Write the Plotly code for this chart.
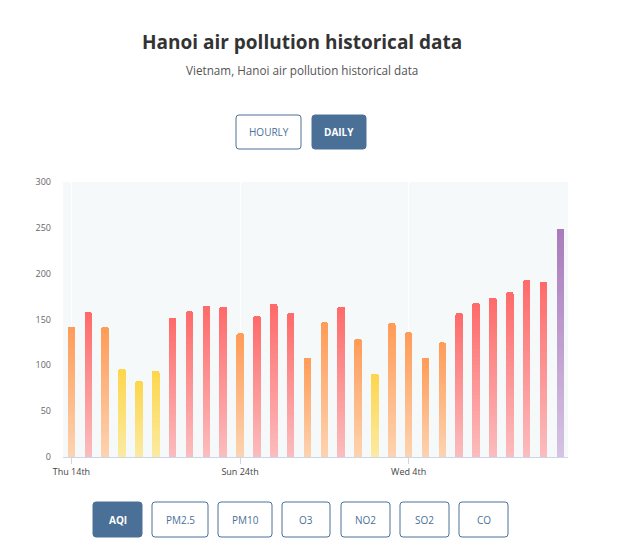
import plotly.graph_objects as go

# ---- data ----
days = ["Thu 14th", "Fri 15th", "Sat 16th", "Sun 17th", "Mon 18th", "Tue 19th",
        "Wed 20th", "Thu 21st", "Fri 22nd", "Sat 23rd", "Sun 24th", "Mon 25th",
        "Tue 26th", "Wed 27th", "Thu 28th", "Fri 29th", "Sat 30th", "Sun 1st",
        "Mon 2nd", "Tue 3rd", "Wed 4th", "Thu 5th", "Fri 6th", "Sat 7th",
        "Sun 8th", "Mon 9th", "Tue 10th", "Wed 11th", "Thu 12th", "Fri 13th"]
aqi = [142, 158, 142, 96, 83, 94, 152, 159, 165, 164, 135, 154, 167, 157, 108,
       147, 164, 129, 91, 146, 136, 108, 125, 157, 168, 174, 180, 193, 191, 249]
tick_days = ["Thu 14th", "Sun 24th", "Wed 4th"]
y_ticks = [0, 50, 100, 150, 200, 250, 300]
aqi_levels = [50, 100, 150, 200, 300]
level_top = ["#a8e05f", "#fdd64b", "#ff9b57", "#fe6a69", "#a97abc"]
level_bottom = ["#d4efb0", "#fbeaa2", "#fdd3b0", "#fcbcbe", "#d6c3e4"]
pollutants = ["AQI", "PM2.5", "PM10", "O3", "NO2", "SO2", "CO"]
ranges = ["HOURLY", "DAILY"]

# page body has an 8px margin; work in window pixels and shift
OFF = 8
W, H = 620 - 2 * OFF, 547 - 2 * OFF
PL, PR, PT, PB = 63, 568, 182, 457          # plot area in window pixels
ML, MR, MT, MB = PL - OFF, W - (PR - OFF), PT - OFF, H - (PB - OFF)
PW, PH = PR - PL, PB - PT


def level_index(v):
    for i, lim in enumerate(aqi_levels):
        if v <= lim:
            return i
    return len(aqi_levels) - 1


def hex2rgb(h):
    h = h.lstrip("#")
    return [int(h[i:i + 2], 16) for i in (0, 2, 4)]


def mix(c1, c2, t):
    a, b = hex2rgb(c1), hex2rgb(c2)
    return "rgb(%d,%d,%d)" % tuple(round(a[i] + (b[i] - a[i]) * t) for i in range(3))


N = 40  # gradient slices per bar
fig = go.Figure()
for k in range(N):
    t = (k + 0.5) / N
    cols = [mix(level_bottom[level_index(v)], level_top[level_index(v)], t) for v in aqi]
    fig.add_trace(go.Bar(
        x=days, y=[v / N for v in aqi],
        marker=dict(color=cols, line=dict(width=0)),
        hoverinfo="skip", showlegend=False,
    ))

fig.update_layout(
    width=W, height=H,
    margin=dict(l=ML, r=MR, t=MT, b=MB),
    barmode="stack", bargap=0.55, barcornerradius=2,
    paper_bgcolor="white", plot_bgcolor="#f6f9fa",
    font=dict(family="Open Sans", color="#555"),
    showlegend=False,
)
fig.update_xaxes(
    type="category", range=[-0.5, 29.45],
    tickmode="array", tickvals=tick_days, ticktext=tick_days,
    ticks="outside", ticklen=6, tickcolor="#ccd6eb",
    showline=True, linecolor="#ccd6eb", linewidth=1,
    showgrid=True, gridcolor="#ffffff", gridwidth=1,
    tickfont=dict(size=9, color="#444"),
)
fig.update_yaxes(
    range=[0, 300], tickvals=y_ticks, showgrid=False, zeroline=False,
    tickfont=dict(size=9, color="#666"), ticklabelstandoff=11,
)


def px(x):
    return (x - PL) / PW


def py(y):
    return (PB - y) / PH


def button(x0, y0, x1, y1, label, active, size=10):
    r = 3
    path = (f"M {px(x0 + r)} {py(y0)} L {px(x1 - r)} {py(y0)} "
            f"Q {px(x1)} {py(y0)} {px(x1)} {py(y0 + r)} L {px(x1)} {py(y1 - r)} "
            f"Q {px(x1)} {py(y1)} {px(x1 - r)} {py(y1)} L {px(x0 + r)} {py(y1)} "
            f"Q {px(x0)} {py(y1)} {px(x0)} {py(y1 - r)} L {px(x0)} {py(y0 + r)} "
            f"Q {px(x0)} {py(y0)} {px(x0 + r)} {py(y0)} Z")
    fig.add_shape(type="path", path=path, xref="paper", yref="paper",
                  fillcolor="#4a7098" if active else "white",
                  line=dict(color="#4a7098", width=1))
    fig.add_annotation(x=px((x0 + x1) / 2), y=py((y0 + y1) / 2), xref="paper",
                       yref="paper", xanchor="center", yanchor="middle",
                       text=f"<b>{label}</b>" if active else label, showarrow=False,
                       font=dict(size=size, color="white" if active else "#4a7098",
                                 family="Open Sans"))


button(236, 115, 301, 149, ranges[0], False)
button(312, 115, 366, 149, ranges[1], True)
bx = [(93, 142), (152, 208), (218, 272), (282, 330), (341, 390), (400, 449), (459, 508)]
for (a, b), lab in zip(bx, pollutants):
    button(a, 502, b, 537, lab, lab == "AQI")

fig.add_annotation(x=px(301.5), y=py(42), xref="paper", yref="paper",
                   xanchor="center", yanchor="middle",
                   text="<b>Hanoi air pollution historical data</b>", showarrow=False,
                   font=dict(size=19, color="#333", family="Open Sans"))
fig.add_annotation(x=px(301.5), y=py(70), xref="paper", yref="paper",
                   xanchor="center", yanchor="middle",
                   text="Vietnam, Hanoi air pollution historical data", showarrow=False,
                   font=dict(size=11.7, color="#555", family="Open Sans"))

fig.write_html("out.html")
